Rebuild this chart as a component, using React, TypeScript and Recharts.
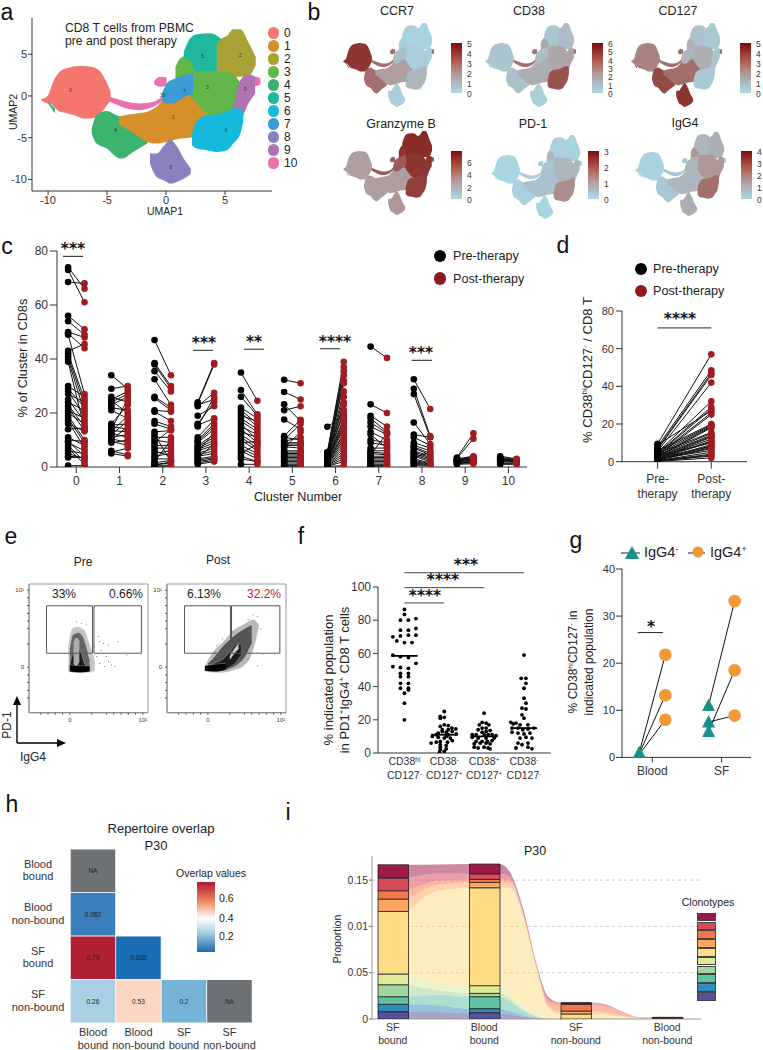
import React from "react";
import {
  ComposedChart, BarChart, Bar, Area, Scatter, XAxis, YAxis, ReferenceLine, ReferenceArea, CartesianGrid,
} from "recharts";

const FONT = '"Liberation Sans", Arial, sans-serif';
const NO_ANIM = { isAnimationActive: false } as const;

// ---------- panel a/b: UMAP outlines, [umap1, low umap2, high umap2]
const cluster0 = [[-10.6,-.5,-.4],[-10,-.9,.1],[-9.7,-1,1.2],[-9.5,-1.3,1.9],[-9,-1.9,2.9],[-8.6,-2,3.25],[-8.1,-2.2,3.45],[-7.6,-2.4,3.55],[-7,-2.7,3.6],[-6.4,-2.7,3.5],[-5.9,-2.5,3.3],[-5.5,-2,2.8],[-5.2,-1.5,2.1],[-4.7,-.5,.6]];
const cluster10a = [[-4.75,-.7,-.1],[-3.3,-1.5,-.7],[-2.2,-1.7,-.9],[-1.1,-1.3,-.7],[-.2,-.5,.1]];
const cluster10b = [[-1,1.4,1.8],[-.5,1.1,2.3],[.05,1.3,2.2]];
const cluster10c = [[7.1,1.3,1.9],[7.6,1.2,2.3],[8,1.4,2.1]];
const cluster4 = [[-6.3,-4.5,-3.9],[-5.9,-5.7,-2.3],[-5,-6.3,-1.8],[-4.2,-7.3,-2.3],[-3.75,-7.5,-2.5],[-2.8,-6.7,-2.8],[-1.6,-5.7,-3.2]];
const cluster4tail = [[-10,-.9,-.7],[-9.4,-2.1,-1.5]];
const cluster1 = [[-4,-3.4,-2.5],[-3.5,-3.8,-2.3],[-2.5,-4.7,-2.1],[-1.6,-5.5,-1.9],[-.8,-5.7,-1.3],[.05,-5.5,-.1],[1.2,-5.1,.7],[2,-5,.9],[2.9,-4.7,.5],[3.7,-3.9,-1.2]];
const cluster8 = [[-1.36,-8.1,-6.9],[-.8,-9.7,-6.9],[-.2,-10.1,-6],[.35,-10.5,-5.2],[.9,-10.3,-6],[1.5,-9.9,-7.5],[2.1,-9.3,-8.7]];
const cluster6 = [[2.2,-5.9,-4.5],[2.6,-6.3,-3],[3.45,-6.5,-2.3],[4.3,-6.7,-2.2],[5.15,-6.5,-1.9],[5.7,-5.7,-1.5],[6.3,-4.5,-1.5],[6.55,-3.1,-1.9]];
const cluster3 = [[1.9,.2,2.6],[2.6,-.9,2.9],[3.45,-2.1,3],[4.6,-2.5,3],[5.7,-1.9,2.6],[6.4,-1.5,1.3]];
const cluster3lobe = [[.8,1.5,3.5],[1.2,1.9,4.5],[1.9,2.2,4.9],[2.6,2.6,5.1]];
const cluster5 = [[1.5,4.4,5.3],[2.05,4.2,6.9],[2.6,2.6,7.4],[3.7,2.3,7.5],[4.6,2.6,6.9],[5.15,3.5,6]];
const cluster2 = [[4.3,2.8,6.3],[4.75,2.5,6.9],[5.15,2.4,7.2],[5.7,2.3,8],[6.3,2.3,8],[7.1,2.5,6.1],[7.6,3.7,4.7]];
const cluster9 = [[5.7,-3.3,-1.7],[6.3,-2.9,1.9],[6.95,-1,2.6],[7.55,.3,2.3]];
const cluster7 = [[-.35,-.5,.3],[.05,-.9,1.5],[.6,-.9,2],[1.3,-.3,2.4],[2.3,.3,2.7]];

// draw order matters, later blobs sit on top; second field is the cluster number
const blobs: [number[][], number][] = [
  [cluster0, 0], [cluster10a, 10], [cluster10b, 10], [cluster10c, 10], [cluster4tail, 4], [cluster4, 4],
  [cluster1, 1], [cluster8, 8], [cluster3lobe, 3], [cluster5, 5], [cluster2, 2], [cluster3, 3],
  [cluster9, 9], [cluster6, 6], [cluster7, 7],
];
const clusterColors = ["#f4766e","#d6902a","#a8a135","#63b649","#3bb36f","#20b89d","#14b9dc","#3a9bd5","#8a82bf","#b072b0","#ec6fae"];
const clusterNames = ["0","1","2","3","4","5","6","7","8","9","10"];
const clusterLabelX = [-8.1,.6,6.3,3.5,-4.3,3.1,5.1,1.55,.4,6.7,-.3];
const clusterLabelY = [.7,-2.5,4.9,1.1,-4.1,4.8,-4.1,.6,-8.5,.8,.1];

// relative expression per cluster 0..10
const ccr7Level = [.9,.35,.02,.05,.6,.02,.2,.15,.05,.05,.6];
const cd38Level = [.1,.25,.15,.3,.12,.1,.75,.15,.05,.3,.6];
const cd127Level = [.5,.6,.08,.25,.8,.12,.08,.2,.9,.1,.6];
const gzmbLevel = [.35,.35,.95,.9,.35,.95,.85,.7,.4,.9,.7];
const pd1Level = [0,.12,.02,.2,.03,.03,.45,.1,0,.2,.05];
const igg4Level = [.02,.2,.25,.4,.08,.2,.6,.2,.25,.4,.1];

const featureMaps = [
  { name: "CCR7", level: ccr7Level, left: 343, top: 23, tx: 397, ty: 11, bar: 451, bt: 43, bb: 93, ticks: ["5","4","3","2","1","0"] },
  { name: "CD38", level: cd38Level, left: 485, top: 23, tx: 529, ty: 11, bar: 592, bt: 43, bb: 93, ticks: ["6","5","4","3","2","1","0"] },
  { name: "CD127", level: cd127Level, left: 631, top: 23, tx: 678, ty: 11, bar: 740, bt: 43, bb: 93, ticks: ["5","4","3","2","1","0"] },
  { name: "Granzyme B", level: gzmbLevel, left: 343, top: 131, tx: 401, ty: 124, bar: 451, bt: 151, bb: 199, ticks: ["6","4","2","0"], tickTop: 163 },
  { name: "PD-1", level: pd1Level, left: 491, top: 135, tx: 533, ty: 124, bar: 588, bt: 151, bb: 199, ticks: ["3","2","1","0"] },
  { name: "IgG4", level: igg4Level, left: 635, top: 132, tx: 685, ty: 123, bar: 741, bt: 151, bb: 199, ticks: ["4","3","2","1","0"] },
];

// ---------- panel c: [pre, post] per patient for each cluster
const pairs0 = [[74,66],[73,61],[68.5,68],[56,51],[54,49],[50,48],[49.5,44],[49,27],[43,45.5],[42,25],[41,23],[40,20],[39,14],[30,26],[29,22],[28,19],[27,24],[25,17],[24,21],[23,15],[22,13.5],[21,18],[20,16],[19,10],[18,9],[17,7],[16,13.2],[14,14.5],[11,8],[10,9.5],[9.5,4],[9,6],[8,2],[7,1],[6,5],[5,3],[4,3.5],[3.5,3.6],[.5,.5]];
const pairs1 = [[34,29],[29,30],[26,24],[25,28],[24.5,20],[24,27],[23,26],[22,21],[21,18],[16,23],[15.5,16],[15,14],[14,25],[13.5,13],[13,19],[12.5,11],[12,17],[11,12],[10.5,9],[10,15],[9.5,8],[9,10],[6,4.5],[5.5,7],[5,4]];
const pairs2 = [[47,34],[38.5,30],[38,29],[35.5,28],[32.5,23],[26,22],[25.5,21],[21,20.5],[20.5,17],[17,15],[16,14],[13,13.5],[12,2],[11,11],[10,9],[9,14],[8,8],[7,7],[6,4],[5,6],[4,5],[3,3],[2,10],[1.5,2.5],[1,1.5],[.8,.6],[.5,2],[.3,.3]];
const pairs3 = [[24,38.5],[23.5,38],[23,25],[22.5,27.5],[19,22.5],[16,24],[15,26],[15.5,18],[11,17.5],[10,16],[9.5,15],[9,14],[8,12],[7.5,11],[7,10],[6.5,9],[6,8],[5.5,13],[5,7],[4.5,6],[4,5],[3.5,8.5],[3,4],[2.5,3.5],[2,3],[1.5,2.5],[1,2]];
const pairs4 = [[35,24.5],[28.5,19.5],[26,19],[22,18],[21,16],[20,15],[19,17],[18,14],[17,13],[16,10],[15,12],[14,9],[13,11],[12,8],[11,7],[10,6],[9,9.5],[8,5],[7,4],[6,3],[5,8.5],[4,2],[3,2],[1,1]];
const pairs5 = [[32.3,31],[27.8,25],[23.2,17],[21,22.5],[17.6,14],[11.5,17.5],[11,10],[10,16],[9.5,11],[9,9],[8.5,8.5],[8,8],[7.5,7],[7,13],[6,6],[5.5,5.5],[5,5],[4.5,4.5],[4,4],[3.5,3.5],[3,3],[2.5,2.5],[2,2],[1.5,1.5],[1,1],[.5,.5],[.3,.3]];
const pairs6 = [[5.5,39],[5.3,37],[5,35.5],[4.8,34],[4.6,32],[4.4,31],[4.2,28],[4,26],[3.8,24],[3.6,23],[14.9,19],[3.4,21],[3.2,20],[3,18],[2.8,17],[2.6,16],[2.5,15],[2.4,14],[2.2,12.5],[2,12],[1.9,11],[1.8,10],[1.6,9],[1.4,8],[1.2,7],[1,6],[.8,5],[.6,4],[.4,3],[.3,2],[.2,.5]];
const pairs7 = [[44.6,40.4],[23.2,20],[19,15],[18,13],[16.5,12.5],[15,12],[13,10],[12,7],[10,9],[9,8],[7,7],[6,6],[5.5,5],[5,4.5],[4.5,12.5],[4,4],[3.5,3.5],[3,3],[2.5,2.5],[2,2],[1.5,1.5],[1,1],[.5,.5],[.3,.3]];
const pairs8 = [[32.5,21.5],[29,11.5],[27,11],[16.5,8.5],[12,11],[11,8],[9,7],[8,6],[7.5,5],[7,4.5],[6,4],[5.5,3.5],[5,3],[4.5,2.5],[4,2],[3.5,5.5],[3,1.5],[2.5,1.2],[2,1],[1.5,.8],[1,.6],[.5,.4]];
const pairs9 = [[3.5,12.5],[3.2,10.5],[3,4],[2.8,3.8],[2.6,3.5],[2.5,3.2],[2.3,3],[2.2,2.8],[2,2.5],[1.9,2.3],[1.7,2],[1.5,1.8],[1.3,1.5],[1,1.2]];
const pairs10 = [[4,3],[3.5,2.8],[3.2,2.6],[3,2.5],[2.8,2.4],[2.5,2.2],[2.2,2],[2,1.8],[1.5,1.5],[1.2,1.2],[1,1]];
const clusterPairs = [pairs0,pairs1,pairs2,pairs3,pairs4,pairs5,pairs6,pairs7,pairs8,pairs9,pairs10];
const cBrackets = [[-.31,.155,78],[2.7,3.16,43.2],[3.88,4.34,43.6],[5.64,6.1,43.8],[7.76,8.23,39.5]];
const cStars = [["***",73,250],["***",204,344],["**",254,343],["****",335,343],["***",421,354]] as [string,number,number][];

// ---------- panel d
const preD = [9.5,8,7,6.5,5.5,5,4.5,4,9,3.5,3,6,5,4,3,2.5,4.5,3.5,3,2.5,2,2,1.8,1.5,3,1.2,1,2,1,.8,1.5,.6,.5,.4,.3,.2];
const postD = [57,48.5,47,46,42,32,29,28,27,26,25,20,19.5,19,18.5,18,15.5,15,14,13.5,13,12,11,10.5,10,9,8.5,8,7.5,7,6,5,4,3.5,3,2];
const therapyNames = ["Pre-","Post-"];

// ---------- panel e: contour levels as [x, low, high]
const preOuter = [[-.02,-.06,.3],[.03,-.07,.5],[.1,-.07,.53],[.2,-.07,.48],[.27,-.07,.3],[.34,-.05,.1]];
const preMid = [[0,-.05,.25],[.04,-.05,.42],[.12,-.05,.45],[.2,-.05,.35],[.27,-.05,.1]];
const preDark = [[0,-.05,.03],[.05,-.05,.2],[.1,-.05,.25],[.15,-.05,.2],[.2,-.05,.05],[.27,-.05,-.01]];
const prePale = [[.05,.05,.3],[.09,.02,.38],[.13,.08,.33]];
const preBand = [[0,-.06,.03],[.14,-.07,.02],[.27,-.06,.02]];
const postOuter = [[-.05,-.05,0],[.07,-.07,.2],[.21,-.07,.33],[.35,-.04,.48],[.48,.01,.55],[.62,.22,.62],[.7,.53,.55]];
const postMid = [[0,-.04,.05],[.1,-.05,.15],[.2,-.05,.27],[.3,-.02,.36],[.4,.03,.44],[.5,.12,.5],[.6,.3,.55]];
const postDark = [[-.03,-.04,0],[.1,-.05,.06],[.2,-.04,.1],[.3,0,.2],[.4,.08,.3],[.45,.15,.3]];
const postPale = [[.3,.1,.14],[.38,.2,.26],[.42,.24,.3]];
const postBand = [[-.04,-.05,.02],[.1,-.06,.04],[.24,-.04,.05]];
const prePoints = [[.39,.4],[.41,.33],[.46,.31],[.53,.29],[.66,.33],[.43,.22],[.5,.14],[.57,.03],[.62,.01],[.41,.05],[.37,.14],[.34,.27],[.78,.16],[.48,.01],[.53,.07],[.09,.59],[.16,.57],[.23,.55]];
const postPoints = [[.12,.28],[.1,.2],[.15,.3],[.62,.68],[.68,.66],[.55,.62],[.72,.5],[.55,.1],[.68,.02],[.33,.46],[.2,.37],[.75,.17]];
const flowMinorTicks = [-.4,-.3,-.2,-.1,0,.3,.5,.6,.7,.8,.9,1];

// ---------- panel f: [offset from category, percent]
const fCat0 = [[0,86.5],[0,83.5],[-.1,80],[.1,80],[.29,81],[-.1,74],[.1,74],[.29,75],[-.29,70],[-.1,70.5],[.1,71],[.29,71],[-.19,67.5],[0,66.5],[.19,66.5],[-.29,59],[-.1,58],[.1,57.5],[.29,54],[-.29,52],[-.1,51.5],[.1,51],[-.1,48],[.1,48],[-.1,46],[.1,46],[-.1,42],[.1,42],[-.1,39],[.1,39],[.1,38],[0,36],[0,30],[0,20]];
const fCat1 = [[0,25],[-.1,22],[0,21.5],[-.1,21],[0,17],[-.1,16],[.1,16.5],[.19,15],[-.05,14],[.1,14],[.29,14.5],[-.15,12],[-.05,13],[.05,12.5],[.2,13],[-.3,10],[-.2,11],[.1,11],[.3,11.5],[-.15,9.5],[0,9],[.15,9],[.05,10],[-.33,6],[-.2,6.5],[-.1,7],[.08,6.5],[.2,7.5],[-.1,5],[.05,4.5],[-.1,3.5],[.05,2.5],[-.1,2],[0,1],[-.12,.5]];
const fCat2 = [[0,24],[-.05,18.5],[.05,18],[-.12,17],[.12,17],[-.05,15],[.05,15],[-.15,14],[.15,13.5],[-.05,12.5],[.05,13],[-.3,11],[-.2,11],[0,11],[.1,11],[.2,11],[.3,10.5],[-.3,9.5],[-.15,9],[.05,9],[.25,9],[-.2,7],[-.05,7],[.08,7],[.2,7.5],[-.25,5.5],[-.1,6],[.05,6],[.15,5.5],[-.25,3.5],[-.15,3],[0,3.5],[.1,3],[.15,2.5]];
const fCat3 = [[0,59],[-.07,45],[.05,45],[.05,42],[0,39],[0,33],[.05,30],[-.05,27],[.05,26.5],[-.05,23],[0,21],[-.33,18.5],[-.27,17.5],[-.2,18],[-.1,17],[.1,17],[-.3,15],[-.15,15],[-.03,14],[.1,14.5],[.25,15],[-.3,12.5],[-.15,12],[0,11.5],[.15,12],[-.1,9],[.05,9.5],[.2,9],[-.15,6],[.1,6],[-.05,5],[-.2,3],[.1,3.5],[.2,2.5]];
const fCats = [fCat0,fCat1,fCat2,fCat3];
const fMedians = [58.5,11,10,15];
const fBrackets = [[0,1,90.4],[0,2,99.6],[0,3,108.6]];
const fStars = [["****",425,597],["****",443,581],["***",466,566]] as [string,number,number][];
const fTickTop = ["CD38","CD38","CD38","CD38"];
const fTickTopSup = ["hi","-","+","-"];
const fTickBottom = ["CD127","CD127","CD127","CD127"];
const fTickBottomSup = ["-","+","+","-"];

// ---------- panel g
const gNames = ["Blood","SF"];
const gPairsBlood = [[1,21.8],[.8,13.2],[.6,8]];
const gPairsSF = [[11,33.2],[5.5,18.5],[7.5,8.9]];

// ---------- panel h
const heatNames = [["Blood","bound"],["Blood","non-bound"],["SF","bound"],["SF","non-bound"]];
const heatRow0 = ["NA"];
const heatRow1 = ["0.082"];
const heatRow2 = ["0.79","0.038"];
const heatRow3 = ["0.26","0.53","0.2","NA"];
const heatRows = [heatRow0,heatRow1,heatRow2,heatRow3];
const heatColor: Record<string,string> = { NA:"#6e7173","0.082":"#3a7fbc","0.79":"#b11f35","0.038":"#1a6cb5","0.26":"#a9cfe4","0.53":"#fcd6c3","0.2":"#74b3d6" };

// ---------- panel i: clonotype height at each stage of the flow
const flowX = [.165,.5,.835,1.165,1.28,1.425,1.57,1.7,1.83,2.165,2.335,2.52,2.7,2.835];
const barStages = [0,2,8,13];
const clonoPurple = [.0079,.0075,.0068,.0068,.0055,.0025,.0008,0,0,0,0,0,0,0];
const clonoBlue = [.0079,.0072,.0044,.0044,.003,.0015,.0005,0,0,0,0,0,0,0];
const clonoTeal = [.0083,.0116,.0129,.0129,.0105,.005,.0015,.0002,0,0,0,0,0,0];
const clonoGreen = [.0129,.0047,.0036,.0036,.0025,.0015,.0005,0,0,0,0,0,0,0];
const clonoLime = [.0116,.007,.0083,.0083,.007,.004,.002,.0005,0,0,0,0,0,0];
const clonoYellow = [.0676,.1008,.1057,.1057,.1135,.0955,.0484,.0115,.0054,.0054,.0045,.0025,.0008,.0003];
const clonoLtOrange = [.0133,.0065,.0058,.0058,.005,.002,.0015,.002,.0032,.0032,.0025,.001,.0002,0];
const clonoOrange = [.009,.0037,.0032,.0032,.003,.0015,.0012,.0045,.0072,.0072,.0065,.0036,.0006,.0012];
const clonoRed = [.0137,.0078,.0061,.0061,.0035,.002,.0015,.0025,.0012,.0012,.0012,.0003,.0001,0];
const clonoCrimson = [.0143,.0101,.0105,.0105,.0051,.0035,.0018,.0025,.0006,.0006,.0008,.0002,.0001,.0003];
const clonotypes = [clonoPurple,clonoBlue,clonoTeal,clonoGreen,clonoLime,clonoYellow,clonoLtOrange,clonoOrange,clonoRed,clonoCrimson];
const clonoColors = ["#5b4f9e","#2f8cbd","#5fc2a3","#a2d79f","#dfe997","#fddc85","#fba75f","#f5764a","#d8495a","#9e1a4a"];
const alluvialStages = [["SF","bound"],["Blood","bound"],["SF","non-bound"],["Blood","non-bound"]];
const alluvialTicks = [0,.05,.1,.15];
const alluvialTickNames = ["0","0.05","0.01","0.15"];

const flowTable = flowX.map((x, i) => {
  const row: Record<string, number> = { x };
  clonotypes.forEach((c, k) => { row["c" + k] = c[i]; });
  return row;
});
const barTable = barStages.map((s, i) => {
  const row: Record<string, any> = { stage: i };
  clonotypes.forEach((c, k) => { row["c" + k] = c[s]; });
  return row;
});

// ---------- helpers
const rows = (list: number[][]) => list.map(([x, lo, hi]) => ({ x, r: [lo, hi] }));
const points = (list: number[][]) => list.map(([x, y]) => ({ x, y }));

function T({ x, y, size = 12, color = "#222", rot = 0, start = false, weight, font, children }: any) {
  const shift = start ? "translate(0,-50%)" : "translate(-50%,-50%)";
  return (
    <div style={{ position: "absolute", left: x, top: y, transform: `${shift} rotate(${rot}deg)`, fontSize: size, color, whiteSpace: "nowrap", lineHeight: 1, fontWeight: weight, fontFamily: font }}>
      {children}
    </div>
  );
}
const Sup = ({ children }: any) => <sup style={{ fontSize: ".6em", lineHeight: 0, verticalAlign: ".55em" }}>{children}</sup>;
const Stars = ({ x, y, s }: any) => <T x={x} y={y} size={15.5} weight="bold" color="#111" font='"DejaVu Sans"'>{s}</T>;
const Dot = ({ x, y, r, color }: any) => (
  <div style={{ position: "absolute", left: x - r, top: y - r, width: 2 * r, height: 2 * r, borderRadius: "50%", background: color }} />
);

const circle = (r: number, fill: string) => (p: any) => <circle cx={p.cx} cy={p.cy} r={r} fill={fill} />;
const triangle = (fill: string) => (p: any) => (
  <path d={`M${p.cx} ${p.cy - 7}L${p.cx + 6.5} ${p.cy + 5.5}L${p.cx - 6.5} ${p.cy + 5.5}Z`} fill={fill} />
);
const noDot = () => <g />;

function level(v: number) {
  // light blue to grey to dark red
  const low = [168, 213, 226], mid = [176, 150, 150], high = [134, 34, 28];
  const a = v < .4 ? low : mid, b = v < .4 ? mid : high, t = v < .4 ? v / .4 : (v - .4) / .6;
  const c = a.map((n, i) => Math.round(n + (b[i] - n) * t));
  return `rgb(${c[0]},${c[1]},${c[2]})`;
}

const axisStyle = { stroke: "#333", strokeWidth: 1 };

function PairLines(pairs: number[][], a: number, b: number, key: string) {
  return pairs.map(([pre, post], i) => (
    <Scatter key={key + i} data={[{ x: a, y: pre }, { x: b, y: post }]} line={{ stroke: "#111", strokeWidth: 1 }} shape={noDot} {...NO_ANIM} />
  ));
}

// ---------- panels
function PanelA() {
  return (
    <>
      <div style={{ position: "absolute", left: 2, top: 8 }}>
        <ComposedChart width={272} height={205} margin={{ top: 10, right: 2, bottom: 0, left: 0 }}>
          <XAxis type="number" dataKey="x" domain={[-11.36, 8.98]} ticks={[-10,-5,0,5]} allowDataOverflow tick={{ fontSize: 11, fill: "#333" }} tickSize={4} tickMargin={1} axisLine={axisStyle} tickLine={axisStyle} height={22} />
          <YAxis type="number" domain={[-11.38, 9.34]} ticks={[-10,-5,0,5]} allowDataOverflow tick={{ fontSize: 11, fill: "#333" }} tickSize={4} tickMargin={1} axisLine={axisStyle} tickLine={axisStyle} width={30} />
          {blobs.map(([outline, c], i) => (
            <Area key={i} data={rows(outline)} dataKey="r" type="monotone" fill={clusterColors[c]} fillOpacity={1} stroke="none" dot={false} activeDot={false} {...NO_ANIM} />
          ))}
          <Scatter data={clusterNames.map((n, i) => ({ x: clusterLabelX[i], y: clusterLabelY[i], n }))} dataKey="y" {...NO_ANIM}
            shape={(p: any) => <text x={p.cx} y={p.cy + 2} textAnchor="middle" fontSize={5} fill="#333">{p.payload.n}</text>} />
        </ComposedChart>
      </div>
      <T x={65} y={27.5} size={12.2} start>CD8 T cells from PBMC</T>
      <T x={65} y={40.5} size={12.2} start>pre and post therapy</T>
      <T x={13} y={112} size={10.5} rot={-90}>UMAP2</T>
      <T x={165} y={211} size={10.5}>UMAP1</T>
      {clusterNames.map((n, i) => (
        <React.Fragment key={n}>
          <Dot x={273.5} y={33 + i * 13} r={5.8} color={clusterColors[i]} />
          <T x={284} y={33 + i * 13} size={12} start>{n}</T>
        </React.Fragment>
      ))}
    </>
  );
}

function PanelB() {
  return (
    <>
      {featureMaps.map((m) => (
        <React.Fragment key={m.name}>
          <T x={m.tx} y={m.ty} size={12.5}>{m.name}</T>
          <div style={{ position: "absolute", left: m.left, top: m.top, filter: "blur(.6px)" }}>
            <ComposedChart width={92} height={84} margin={{ top: 0, right: 0, bottom: 0, left: 0 }}>
              <XAxis type="number" dataKey="x" hide domain={[-10.6, 8.2]} allowDataOverflow />
              <YAxis type="number" hide domain={[-10.5, 8]} allowDataOverflow />
              {blobs.map(([outline, c], i) => (
                <Area key={i} data={rows(outline)} dataKey="r" type="monotone" fill={level(m.level[c])} fillOpacity={1} stroke="none" dot={false} activeDot={false} {...NO_ANIM} />
              ))}
            </ComposedChart>
          </div>
          <div style={{ position: "absolute", left: m.bar, top: m.bt, width: 11, height: m.bb - m.bt, background: "linear-gradient(#7a0c0c, #b05a4c 35%, #b29a98 62%, #a8d5e2 96%)" }} />
          {m.ticks.map((t, i) => {
            const first = m.tickTop ?? m.bt + 1;
            const y = first + (i * (m.bb + 1 - first)) / (m.ticks.length - 1);
            return <T key={t} x={m.bar + 16} y={y} size={8.5} color="#333" start>{t}</T>;
          })}
        </React.Fragment>
      ))}
    </>
  );
}

function PanelC() {
  return (
    <>
      <div style={{ position: "absolute", left: 17, top: 235.7 }}>
        <ComposedChart width={515} height={261} margin={{ top: 15, right: 5, bottom: 0, left: 0 }}>
          <XAxis type="number" dataKey="x" domain={[-.447, 10.43]} ticks={[0,1,2,3,4,5,6,7,8,9,10]} interval={0} allowDataOverflow tick={{ fontSize: 12, fill: "#333" }} tickSize={6} tickMargin={3} axisLine={axisStyle} tickLine={axisStyle} height={30} />
          <YAxis type="number" dataKey="y" domain={[0, 80]} ticks={[0,20,40,60,80]} allowDataOverflow tick={{ fontSize: 12, fill: "#333" }} tickSize={7} tickMargin={2} axisLine={axisStyle} tickLine={axisStyle} width={40} />
          {clusterPairs.flatMap((pairs, c) => PairLines(pairs, c - .19, c + .19, `l${c}-`))}
          {clusterPairs.map((pairs, c) => (
            <Scatter key={"pre" + c} data={pairs.map((p) => ({ x: c - .19, y: p[0] }))} shape={circle(3.3, "#000")} {...NO_ANIM} />
          ))}
          {clusterPairs.map((pairs, c) => (
            <Scatter key={"post" + c} data={pairs.map((p) => ({ x: c + .19, y: p[1] }))} shape={circle(3.3, "#a01c20")} {...NO_ANIM} />
          ))}
          {cBrackets.map(([a, b, y], i) => (
            <ReferenceLine key={i} segment={[{ x: a, y }, { x: b, y }]} stroke="#444" strokeWidth={1.2} ifOverflow="visible" />
          ))}
        </ComposedChart>
      </div>
      {cStars.map(([s, x, y]) => <Stars key={x} x={x} y={y} s={s} />)}
      <T x={23} y={358} size={12.8} rot={-90}>% of Cluster in CD8s</T>
      <T x={298} y={497} size={12.6}>Cluster Number</T>
      <Dot x={440} y={256} r={6.3} color="#000" />
      <Dot x={440} y={278.7} r={6.3} color="#8f1a1e" />
      <T x={453} y={256} size={12.6} start>Pre-therapy</T>
      <T x={453} y={278.7} size={12.6} start>Post-therapy</T>
    </>
  );
}

function PanelD() {
  const therapyTick = (p: any) => (
    <text x={p.x} y={p.y + 12} textAnchor="middle" fontSize={12} fill="#333">
      <tspan x={p.x}>{therapyNames[p.payload.value]}</tspan>
      <tspan x={p.x} dy={15.5}>therapy</tspan>
    </text>
  );
  return (
    <>
      <div style={{ position: "absolute", left: 581.7, top: 301 }}>
        <ComposedChart width={170} height={200} margin={{ top: 10, right: 5, bottom: 0, left: 0 }}>
          <XAxis type="number" dataKey="x" domain={[-.663, 1.665]} ticks={[0,1]} allowDataOverflow tick={therapyTick} tickSize={7} axisLine={axisStyle} tickLine={axisStyle} height={39.3} />
          <YAxis type="number" dataKey="y" domain={[0, 80]} ticks={[0,20,40,60,80]} allowDataOverflow tick={{ fontSize: 11, fill: "#333" }} tickSize={6} tickMargin={2} axisLine={axisStyle} tickLine={axisStyle} width={40} />
          {PairLines(preD.map((v, i) => [v, postD[i]]), 0, 1, "d")}
          <Scatter data={preD.map((y) => ({ x: 0, y }))} shape={circle(3.3, "#000")} {...NO_ANIM} />
          <Scatter data={postD.map((y) => ({ x: 1, y }))} shape={circle(3.3, "#a01c20")} {...NO_ANIM} />
          <ReferenceLine segment={[{ x: 0, y: 71 }, { x: 1, y: 71 }]} stroke="#555" strokeWidth={1.2} ifOverflow="visible" />
        </ComposedChart>
      </div>
      <Stars x={680} y={320} s="****" />
      <T x={587} y={370} size={13} rot={-90}>% CD38<Sup>hi</Sup>CD127<Sup>-</Sup> / CD8 T</T>
      <Dot x={641} y={269} r={6.3} color="#000" />
      <Dot x={641} y={291} r={6.3} color="#8f1a1e" />
      <T x={653} y={269} size={12.6} start>Pre-therapy</T>
      <T x={653} y={291} size={12.6} start>Post-therapy</T>
    </>
  );
}

function FlowPlot({ left, levels, dots, x1, x2, x3, x4 }: any) {
  const minor = (v: number) => (v === 0 ? "0" : v === 1 ? "10\u00b9" : "");
  return (
    <div style={{ position: "absolute", left: left - 20, top: 579 }}>
      <ComposedChart width={145} height={150} margin={{ top: 5, right: 6, bottom: 0, left: 0 }}>
        <XAxis type="number" dataKey="x" domain={[-.56, 1.07]} ticks={flowMinorTicks} interval={0} tickFormatter={minor} allowDataOverflow tick={{ fontSize: 6, fill: "#333" }} tickSize={2} tickMargin={3} axisLine={{ stroke: "#888" }} tickLine={{ stroke: "#555" }} height={16.3} />
        <YAxis type="number" dataKey="y" domain={[-.59, 1.08]} ticks={flowMinorTicks} interval={0} tickFormatter={minor} allowDataOverflow tick={{ fontSize: 6, fill: "#333" }} tickSize={2} tickMargin={3} axisLine={{ stroke: "#888" }} tickLine={{ stroke: "#555" }} width={20} />
        <ReferenceArea x1={-.56} x2={1.07} y1={-.59} y2={1.08} fill="none" stroke="#999" strokeWidth={1} />
        {levels.map(([outline, color]: any, i: number) => (
          <Area key={i} data={rows(outline)} dataKey="r" type="monotone" fill={color} fillOpacity={1} stroke="#fff" strokeWidth={.3} dot={false} activeDot={false} {...NO_ANIM} />
        ))}
        <Scatter data={points(dots)} shape={circle(.5, "#555")} {...NO_ANIM} />
        <ReferenceArea x1={x1} x2={x2} y1={.182} y2={.797} fill="none" stroke="#555" strokeWidth={1} />
        <ReferenceArea x1={x3} x2={x4} y1={.182} y2={.797} fill="none" stroke="#555" strokeWidth={1} />
      </ComposedChart>
    </div>
  );
}

function PanelE() {
  return (
    <>
      <FlowPlot left={29} dots={prePoints} x1={-.32} x2={.31} x3={.33} x4={.98}
        levels={[[preOuter, "#c4c4c4"], [preMid, "#666"], [preDark, "#1c1c1c"], [prePale, "#aaa"], [preBand, "#000"]]} />
      <FlowPlot left={166.7} dots={postPoints} x1={-.32} x2={.31} x3={.324} x4={.986}
        levels={[[postOuter, "#b8b8b8"], [postMid, "#555"], [postDark, "#1c1c1c"], [postPale, "#ccc"], [postBand, "#000"]]} />
      <T x={83} y={562} size={12}>Pre</T>
      <T x={218} y={560} size={12}>Post</T>
      <T x={64} y={594} size={12}>33%</T>
      <T x={126} y={594} size={12}>0.66%</T>
      <T x={204} y={594} size={12}>6.13%</T>
      <T x={264} y={594} size={12} color="#c3202c">32.2%</T>
      <svg style={{ position: "absolute", left: 0, top: 690 }} width={80} height={60}>
        <path d="M17 53V12M17 53H60" stroke="#000" strokeWidth={1.4} fill="none" />
        <path d="M17 6l-4 9h8zM66 53l-9-4v8z" fill="#000" />
      </svg>
      <T x={7} y={725} size={12} rot={-90}>PD-1</T>
      <T x={33} y={757} size={12}>IgG4</T>
    </>
  );
}

function PanelF() {
  const fTick = (p: any) => {
    const i = p.payload.value;
    return (
      <text x={p.x} y={p.y + 10} textAnchor="middle" fontSize={10.5} fill="#333">
        <tspan x={p.x}>{fTickTop[i]}</tspan><tspan fontSize={6.5} dy={-3}>{fTickTopSup[i]}</tspan>
        <tspan x={p.x} dy={16.5}>{fTickBottom[i]}</tspan><tspan fontSize={6.5} dy={-3}>{fTickBottomSup[i]}</tspan>
      </text>
    );
  };
  return (
    <>
      <div style={{ position: "absolute", left: 338.3, top: 557 }}>
        <ComposedChart width={217} height={232} margin={{ top: 30, right: 4.4, bottom: 0, left: 0 }}>
          <XAxis type="number" dataKey="x" domain={[-.663, 3.668]} ticks={[0,1,2,3]} interval={0} allowDataOverflow tick={fTick} tickSize={0} axisLine={axisStyle} tickLine={false} height={36} />
          <YAxis type="number" dataKey="y" domain={[0, 100]} ticks={[0,20,40,60,80,100]} allowDataOverflow tick={{ fontSize: 12, fill: "#333" }} tickSize={5} tickMargin={2} axisLine={axisStyle} tickLine={axisStyle} width={40} />
          {fCats.map((cat, c) => (
            <Scatter key={c} data={cat.map(([dx, y]) => ({ x: c + dx, y }))} shape={circle(1.9, "#000")} {...NO_ANIM} />
          ))}
          {fMedians.map((y, c) => (
            <ReferenceLine key={c} segment={[{ x: c - .33, y }, { x: c + .33, y }]} stroke="#000" strokeWidth={1.8} />
          ))}
          {fBrackets.map(([a, b, y], i) => (
            <ReferenceLine key={"b" + i} segment={[{ x: a, y }, { x: b, y }]} stroke="#444" strokeWidth={1} ifOverflow="visible" />
          ))}
        </ComposedChart>
      </div>
      {fStars.map(([s, x, y]) => <Stars key={x} x={x} y={y} s={s} />)}
      <T x={328} y={680} size={13} rot={-90}>% indicated population</T>
      <T x={344} y={680} size={13} rot={-90}>in PD1<Sup>+</Sup>IgG4<Sup>+</Sup> CD8 T cells</T>
    </>
  );
}

function PanelG() {
  const gap = .188;
  const tris = [...gPairsBlood.map((p) => ({ x: -gap, y: p[0] })), ...gPairsSF.map((p) => ({ x: 1 - gap, y: p[0] }))];
  const dots = [...gPairsBlood.map((p) => ({ x: gap, y: p[1] })), ...gPairsSF.map((p) => ({ x: 1 + gap, y: p[1] }))];
  return (
    <>
      <div style={{ position: "absolute", left: 581.7, top: 559.3 }}>
        <ComposedChart width={174} height={228.4} margin={{ top: 10, right: 5, bottom: 0, left: 0 }}>
          <XAxis type="number" dataKey="x" domain={[-.437, 1.424]} ticks={[0,1]} tickFormatter={(v: number) => gNames[v]} allowDataOverflow tick={{ fontSize: 12, fill: "#333" }} tickSize={5} tickMargin={4} axisLine={axisStyle} tickLine={axisStyle} height={30} />
          <YAxis type="number" dataKey="y" domain={[0, 40]} ticks={[0,10,20,30,40]} allowDataOverflow tick={{ fontSize: 11, fill: "#333" }} tickSize={6} tickMargin={1} axisLine={axisStyle} tickLine={axisStyle} width={40} />
          {PairLines(gPairsBlood, -gap, gap, "gb")}
          {PairLines(gPairsSF, 1 - gap, 1 + gap, "gs")}
          <Scatter data={dots} shape={circle(6.3, "#f09a37")} {...NO_ANIM} />
          <Scatter data={tris} shape={triangle("#1a8f8c")} {...NO_ANIM} />
          <ReferenceLine segment={[{ x: -.21, y: 26.5 }, { x: .154, y: 26.5 }]} stroke="#222" strokeWidth={1} />
        </ComposedChart>
      </div>
      <Stars x={651} y={628} s="*" />
      <T x={573} y={662} size={12} rot={-90}>% CD38<Sup>hi</Sup>CD127<Sup>-</Sup> in</T>
      <T x={589} y={662} size={12} rot={-90}>indicated population</T>
      <svg style={{ position: "absolute", left: 615, top: 540 }} width={100} height={24}>
        <path d="M6 13H25M73 13H90" stroke="#222" strokeWidth={1} />
        <path d="M17 6L24 19H10Z" fill="#1a8f8c" />
        <circle cx={83} cy={12} r={5.5} fill="#f09a37" />
      </svg>
      <T x={644} y={552} size={14.5} start>IgG4<Sup>-</Sup></T>
      <T x={710} y={552} size={14.5} start>IgG4<Sup>+</Sup></T>
    </>
  );
}

function PanelH() {
  const cells = heatRows.flatMap((row, r) => row.map((v, c) => ({ x: c, y: r, v })));
  const bottomTick = (p: any) => (
    <text x={p.x} y={p.y + 11} textAnchor="middle" fontSize={11} fill="#333">
      <tspan x={p.x}>{heatNames[p.payload.value][0]}</tspan>
      <tspan x={p.x} dy={12.5}>{heatNames[p.payload.value][1]}</tspan>
    </text>
  );
  const leftTick = (p: any) => (
    <text x={38} y={p.y - 3} textAnchor="middle" fontSize={11} fill="#333">
      <tspan x={38}>{heatNames[p.payload.value][0]}</tspan>
      <tspan x={38} dy={12.5}>{heatNames[p.payload.value][1]}</tspan>
    </text>
  );
  const cell = (p: any) => (
    <g>
      <rect x={p.cx - 22.3} y={p.cy - 21.3} width={44.6} height={42.6} fill={heatColor[p.payload.v]} />
      <text x={p.cx} y={p.cy + 2.5} textAnchor="middle" fontSize={6.5} fill="#222">{p.payload.v}</text>
    </g>
  );
  return (
    <>
      <div style={{ position: "absolute", left: 0, top: 849 }}>
        <ComposedChart width={258} height={201} margin={{ top: 0, right: 5.8, bottom: 0, left: 0 }}>
          <XAxis type="number" dataKey="x" domain={[-.5, 3.5]} ticks={[0,1,2,3]} interval={0} allowDataOverflow tick={bottomTick} axisLine={false} tickLine={false} tickSize={0} height={27} />
          <YAxis type="number" dataKey="y" domain={[-.5, 3.5]} reversed ticks={[0,1,2,3]} interval={0} allowDataOverflow tick={leftTick} axisLine={false} tickLine={false} tickSize={0} width={70.2} />
          <Scatter data={cells} shape={cell} {...NO_ANIM} />
        </ComposedChart>
      </div>
      <T x={161} y={828} size={13}>Repertoire overlap</T>
      <T x={156} y={845} size={13}>P30</T>
      <T x={211} y={873} size={10.5}>Overlap values</T>
      <div style={{ position: "absolute", left: 197, top: 881.7, width: 18, height: 70, background: "linear-gradient(#b2182b, #ef8a62 28%, #fff 52%, #a9cfe4 72%, #2166ac 100%)" }} />
      <T x={219} y={898} size={10.5} start>0.6</T>
      <T x={219} y={917.7} size={10.5} start>0.4</T>
      <T x={219} y={936} size={10.5} start>0.2</T>
    </>
  );
}

function PanelI() {
  const stageTick = (p: any) => (
    <text x={p.x} y={p.y + 10} textAnchor="middle" fontSize={10.5} fill="#333">
      <tspan x={p.x}>{alluvialStages[p.payload.value][0]}</tspan>
      <tspan x={p.x} dy={12.5}>{alluvialStages[p.payload.value][1]}</tspan>
    </text>
  );
  return (
    <>
      <div style={{ position: "absolute", left: 332, top: 855.7 }}>
        <ComposedChart width={369} height={177} data={flowTable} margin={{ top: 0, right: 0, bottom: 14, left: 0 }}>
          <CartesianGrid vertical={false} horizontalValues={[.05,.1,.15]} stroke="#ccc" strokeDasharray="3 3" />
          <XAxis type="number" dataKey="x" domain={[-.227, 3.368]} hide allowDataOverflow />
          <YAxis type="number" domain={[0, .176]} ticks={alluvialTicks} interval={0} tickFormatter={(v: number) => alluvialTickNames[alluvialTicks.indexOf(v)]} allowDataOverflow tick={{ fontSize: 10.5, fill: "#333" }} tickSize={3} tickMargin={1} axisLine={{ stroke: "#999" }} tickLine={{ stroke: "#666" }} width={40} />
          {clonoColors.map((color, k) => (
            <Area key={k} dataKey={"c" + k} stackId="flow" type="monotone" fill={color} fillOpacity={.52} stroke="none" dot={false} activeDot={false} {...NO_ANIM} />
          ))}
          <ReferenceLine y={0} stroke="#999" />
        </ComposedChart>
      </div>
      <div style={{ position: "absolute", left: 347, top: 855.7 }}>
        <BarChart width={366} height={195} data={barTable} margin={{ top: 0, right: 0, bottom: 0, left: 0 }} barGap={0}>
          <XAxis dataKey="stage" tick={stageTick} axisLine={false} tickLine={false} tickSize={0} height={32} interval={0} />
          <YAxis hide domain={[0, .176]} allowDataOverflow />
          {clonoColors.map((color, k) => (
            <Bar key={k} dataKey={"c" + k} stackId="bars" fill={color} stroke="#222" strokeWidth={.8} barSize={30.5} {...NO_ANIM} />
          ))}
        </BarChart>
      </div>
      <T x={535} y={851} size={12.5}>P30</T>
      <T x={337} y={939} size={10.5} rot={-90}>Proportion</T>
      <T x={708} y={902} size={10.5}>Clonotypes</T>
      {clonoColors.slice().reverse().map((color, i) => (
        <div key={color} style={{ position: "absolute", left: 696.7, top: 912.7 + i * 8.8, width: 19.4, height: 8.8, boxSizing: "border-box", background: color, border: "0.6px solid #444" }} />
      ))}
    </>
  );
}

const panelLetters = [["a",7,12],["b",314,12],["c",7,246],["d",563,245],["e",11,536],["f",301,536],["g",576,540],["h",12,804],["i",288,812]] as [string,number,number][];

export default function App() {
  return (
    <div style={{ position: "absolute", left: 0, top: 0, width: 763, height: 1050, overflow: "hidden", background: "#fff", fontFamily: FONT }}>
      <PanelA />
      <PanelB />
      <PanelC />
      <PanelD />
      <PanelE />
      <PanelF />
      <PanelG />
      <PanelH />
      <PanelI />
      {panelLetters.map(([s, x, y]) => <T key={s} x={x} y={y} size={23} color="#111">{s}</T>)}
    </div>
  );
}
